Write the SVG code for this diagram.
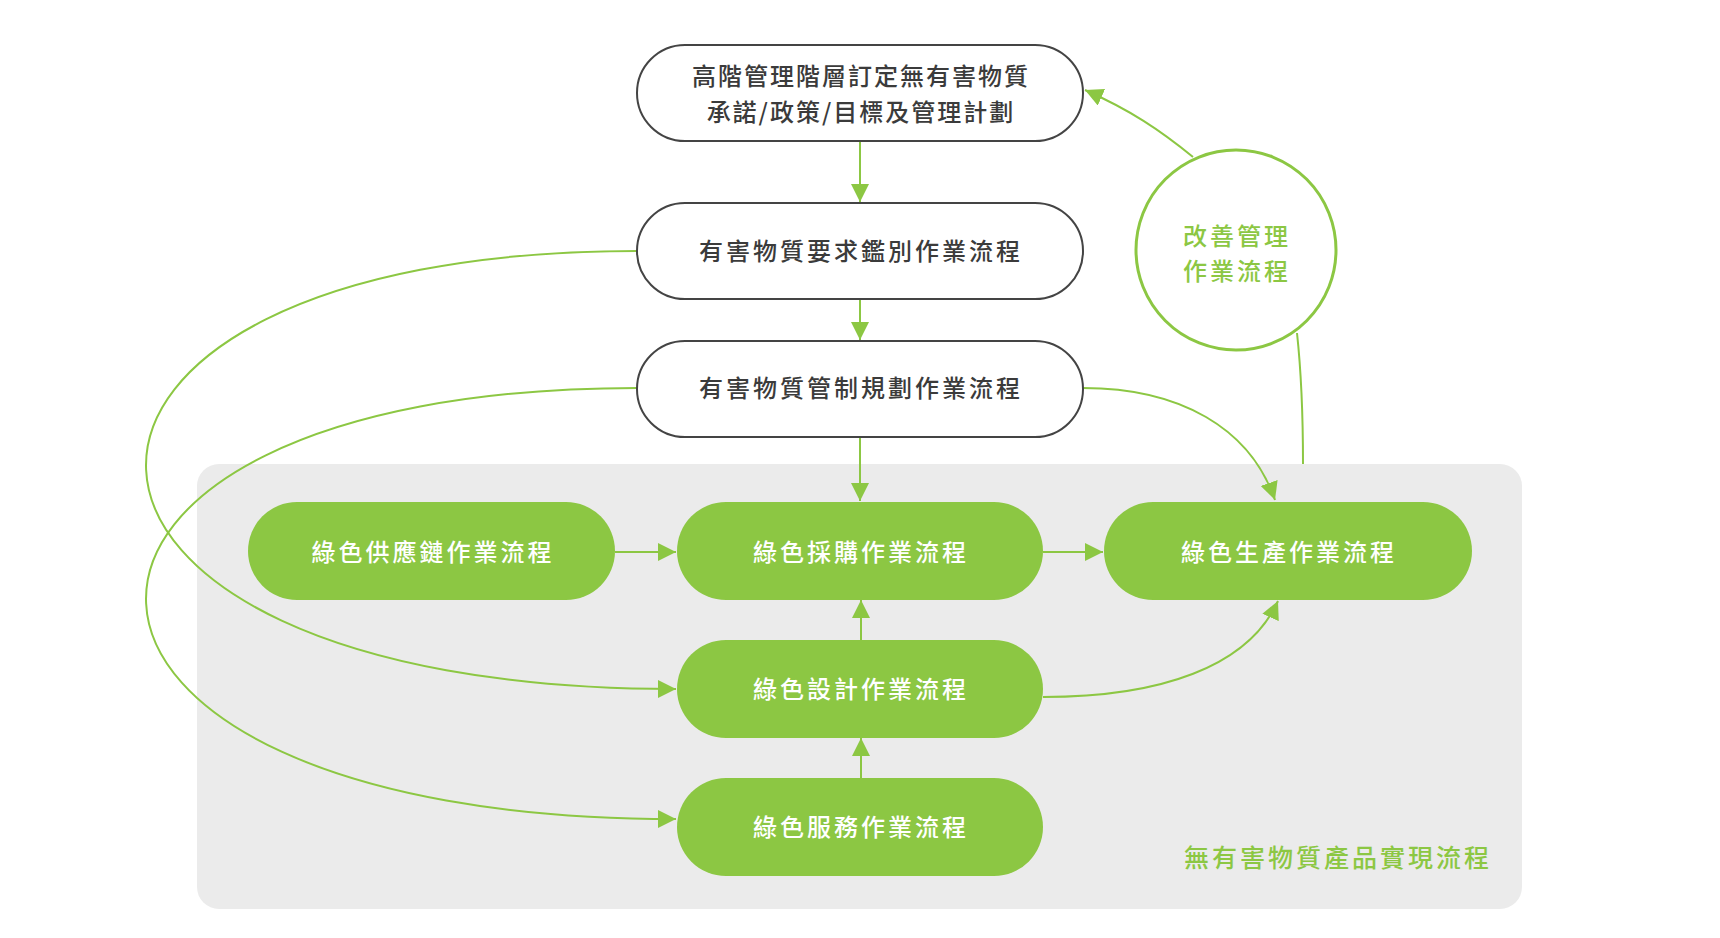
<svg xmlns="http://www.w3.org/2000/svg" width="1720" height="938" viewBox="0 0 1720 938">
<style>
.wn{fill:#ffffff;stroke:#444444;stroke-width:2}
.gn{fill:#8cc743}
.t{font-family:"Noto Sans CJK TC","Noto Sans",sans-serif;font-size:24px;font-weight:500;text-anchor:middle}
.dk{fill:#3b3b3b}
.wt{fill:#ffffff}
.gt{fill:#8cc743}
.c{fill:none;stroke:#8cc743;stroke-width:2}
</style>
<defs>
<marker id="ah" markerUnits="userSpaceOnUse" markerWidth="20" markerHeight="18" refX="18" refY="9" orient="auto">
<path d="M0,0 L18,9 L0,18 Z" fill="#8cc743"/>
</marker>
</defs>
<rect x="0" y="0" width="1720" height="938" fill="#ffffff"/>
<g id="panel">
<rect x="197" y="464" width="1325" height="445" rx="22" fill="#ebebeb"/>
<text class="t gt" x="1338" y="867" style="font-size:25px;letter-spacing:3px">無有害物質產品實現流程</text>
</g>
<g id="connectors">
<path class="c" d="M860,141 L860,202" marker-end="url(#ah)"/>
<path class="c" d="M860,299 L860,340" marker-end="url(#ah)"/>
<path class="c" d="M860,438 L860,501" marker-end="url(#ah)"/>
<path class="c" d="M615,552 L676,552" marker-end="url(#ah)"/>
<path class="c" d="M1043,552 L1103,552" marker-end="url(#ah)"/>
<path class="c" d="M861,640 L861,600" marker-end="url(#ah)"/>
<path class="c" d="M861,778 L861,738" marker-end="url(#ah)"/>
<path class="c" d="M1083,388 C1180,388 1250,428 1275,500" marker-end="url(#ah)"/>
<path class="c" d="M1043,697 C1160,697 1248,667 1278,601" marker-end="url(#ah)"/>
<path class="c" d="M637,251 C-24,251 -24,689 676,689" marker-end="url(#ah)"/>
<path class="c" d="M637,388 C-24,388 -24,819 676,819" marker-end="url(#ah)"/>
<path class="c" d="M1303,464 C1303,420 1301,370 1297,333"/>
<path class="c" d="M1193,157 C1160,130 1130,110 1085,90" marker-end="url(#ah)"/>
</g>
<g id="n1">
<rect class="wn" x="637" y="45" width="446" height="96" rx="48"/>
<text class="t dk" x="861" y="85" style="letter-spacing:2px">高階管理階層訂定無有害物質</text>
<text class="t dk" x="861" y="121" style="letter-spacing:2px">承諾/政策/目標及管理計劃</text>
</g>
<g id="n2">
<rect class="wn" x="637" y="203" width="446" height="96" rx="48"/>
<text class="t dk" x="861" y="260" style="letter-spacing:3px">有害物質要求鑑別作業流程</text>
</g>
<g id="n3">
<rect class="wn" x="637" y="341" width="446" height="96" rx="48"/>
<text class="t dk" x="861" y="397" style="letter-spacing:3px">有害物質管制規劃作業流程</text>
</g>
<g id="supply">
<rect class="gn" x="248" y="502" width="367" height="98" rx="49"/>
<text class="t wt" x="433" y="561" style="letter-spacing:3px">綠色供應鏈作業流程</text>
</g>
<g id="purchase">
<rect class="gn" x="677" y="502" width="366" height="98" rx="49"/>
<text class="t wt" x="861" y="561" style="letter-spacing:3px">綠色採購作業流程</text>
</g>
<g id="production">
<rect class="gn" x="1104" y="502" width="368" height="98" rx="49"/>
<text class="t wt" x="1289" y="561" style="letter-spacing:3px">綠色生產作業流程</text>
</g>
<g id="design">
<rect class="gn" x="677" y="640" width="366" height="98" rx="49"/>
<text class="t wt" x="861" y="698" style="letter-spacing:3px">綠色設計作業流程</text>
</g>
<g id="service">
<rect class="gn" x="677" y="778" width="366" height="98" rx="49"/>
<text class="t wt" x="861" y="836" style="letter-spacing:3px">綠色服務作業流程</text>
</g>
<g id="improve">
<circle cx="1236" cy="250" r="100" fill="#ffffff" stroke="#8cc743" stroke-width="3"/>
<text class="t gt" x="1237" y="245" style="letter-spacing:3px">改善管理</text>
<text class="t gt" x="1237" y="280" style="letter-spacing:3px">作業流程</text>
</g>
</svg>
